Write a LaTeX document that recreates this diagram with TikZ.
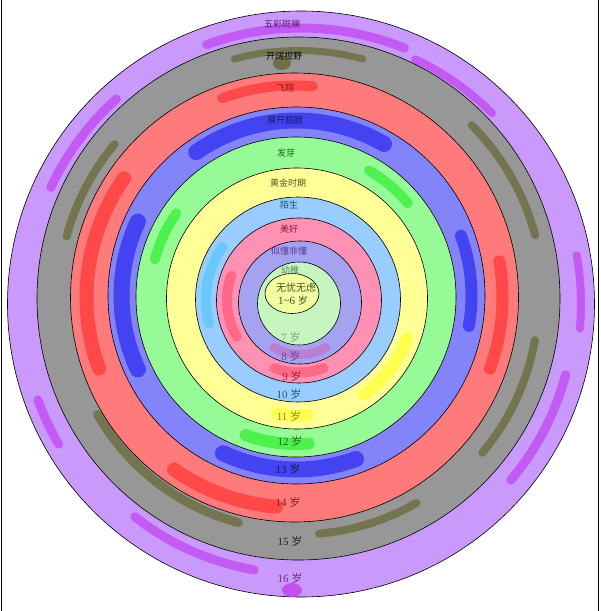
\documentclass[tikz,border=0pt]{standalone}
\usepackage{fontspec}
\setmainfont{Liberation Serif}
\newfontfamily\cjk{Noto Sans CJK SC}
\definecolor{cPurple}{HTML}{C99AFB}
\definecolor{cGray}{HTML}{979797}
\definecolor{cRed}{HTML}{FF7A7A}
\definecolor{cBlue}{HTML}{8484FA}
\definecolor{cGreen}{HTML}{96FB96}
\definecolor{cYellow}{HTML}{FFFF96}
\definecolor{cLBlue}{HTML}{99CCFF}
\definecolor{cPink}{HTML}{FF92B4}
\definecolor{cLav}{HTML}{A6A2F2}
\definecolor{cLGreen}{HTML}{C6F5C0}
\definecolor{cInner}{HTML}{F2FFA0}
\definecolor{mPurple}{HTML}{C040F0}
\definecolor{mOlive}{HTML}{666633}
\definecolor{mRed}{HTML}{FF3535}
\definecolor{mBlue}{HTML}{2828F0}
\definecolor{mGreen}{HTML}{30EE30}
\definecolor{mYellow}{HTML}{FFFF30}
\definecolor{mLBlue}{HTML}{55C8FF}
\definecolor{mPink}{HTML}{FF5878}
\definecolor{mLav}{HTML}{C070C8}
\begin{document}
\begin{tikzpicture}[x=1pt,y=-1pt,
  ring/.style={draw=black, line width=0.6pt},
  marker/.style={line width=#1, line cap=round, opacity=0.7},
  marker/.default=9,
  lab/.style={inner sep=0pt, font=\fontsize{9}{9}\selectfont\cjk},
  age/.style={inner sep=0pt, font=\fontsize{11}{11}\selectfont}]
\useasboundingbox (0,0) rectangle (601,611);
\fill[white] (0,0) rectangle (601,611);
\draw[line width=1.4pt] (1.2,0) -- (1.2,611);
\draw[line width=1.4pt] (598.3,0) -- (598.3,611);
% rings
\filldraw[ring, fill=cPurple] (301,304) ellipse [x radius=293.5, y radius=293];
\draw[marker=9, mPurple] (301,304) ++(250:276) arc[start angle=250, end angle=292, radius=276];
\draw[marker=9, mPurple] (301,304) ++(205:276) arc[start angle=205, end angle=228, radius=276];
\draw[marker=9, mPurple] (301,304) ++(150:280) arc[start angle=150, end angle=160, radius=280];
\draw[marker=9, mPurple] (301,304) ++(100:270) arc[start angle=100, end angle=128, radius=270];
\draw[marker=8, mPurple] (301,304) ++(-10:280) arc[start angle=-10, end angle=5, radius=280];
\draw[marker=9, mPurple] (301,304) ++(15:274) arc[start angle=15, end angle=40, radius=274];
\draw[marker=8, mPurple] (301,304) ++(295:270) arc[start angle=295, end angle=315, radius=270];
\fill[mPurple, opacity=0.8] (292,590) ellipse [x radius=10, y radius=7];
\filldraw[ring, fill=cGray] (298.5,298.5) ellipse [x radius=261.5, y radius=261.5];
\draw[marker=7, mOlive] (298.5,298.5) ++(255:248) arc[start angle=255, end angle=285, radius=248];
\draw[marker=8, mOlive] (298.5,298.5) ++(195:240) arc[start angle=195, end angle=220, radius=240];
\draw[marker=9, mOlive] (298.5,298.5) ++(105:232) arc[start angle=105, end angle=150, radius=232];
\draw[marker=8, mOlive] (298.5,298.5) ++(-45:245) arc[start angle=-45, end angle=-15, radius=245];
\draw[marker=8, mOlive] (298.5,298.5) ++(10:240) arc[start angle=10, end angle=40, radius=240];
\draw[marker=8, mOlive] (298.5,298.5) ++(60:236) arc[start angle=60, end angle=85, radius=236];
\fill[mOlive, opacity=0.8] (282,63) ellipse [x radius=9, y radius=7];
\filldraw[ring, fill=cRed] (294.5,297.5) ellipse [x radius=224, y radius=224.5];
\draw[marker=14, mRed] (294.5,297.5) ++(160:208) arc[start angle=160, end angle=215, radius=208];
\draw[marker=14, mRed] (294.5,297.5) ++(95:210) arc[start angle=95, end angle=125, radius=210];
\draw[marker=12, mRed] (294.5,297.5) ++(-10:208) arc[start angle=-10, end angle=20, radius=208];
\draw[marker=10, mRed] (294.5,297.5) ++(250:212) arc[start angle=250, end angle=275, radius=212];
\filldraw[ring, fill=cBlue] (296.5,295.5) ellipse [x radius=188.5, y radius=188.5];
\draw[marker=16, mBlue] (296.5,295.5) ++(235:175) arc[start angle=235, end angle=300, radius=175];
\draw[marker=16, mBlue] (296.5,295.5) ++(155:175) arc[start angle=155, end angle=205, radius=175];
\draw[marker=16, mBlue] (296.5,295.5) ++(70:174) arc[start angle=70, end angle=115, radius=174];
\draw[marker=12, mBlue] (296.5,295.5) ++(-20:175) arc[start angle=-20, end angle=10, radius=175];
\filldraw[ring, fill=cGreen] (296,297) ellipse [x radius=160, y radius=160];
\draw[marker=12, mGreen] (296,297) ++(85:147) arc[start angle=85, end angle=110, radius=147];
\draw[marker=10, mGreen] (296,297) ++(195:146) arc[start angle=195, end angle=215, radius=146];
\draw[marker=10, mGreen] (296,297) ++(300:146) arc[start angle=300, end angle=320, radius=146];
\filldraw[ring, fill=cYellow] (297,298.5) ellipse [x radius=130.5, y radius=130.5];
\draw[marker=12, mYellow] (297,298.5) ++(20:117) arc[start angle=20, end angle=55, radius=117];
\draw[marker=12, mYellow] (297,298.5) ++(85:117) arc[start angle=85, end angle=100, radius=117];
\filldraw[ring, fill=cLBlue] (298,299.5) ellipse [x radius=102.5, y radius=102.5];
\draw[marker=10, mLBlue] (298,299.5) ++(165:92) arc[start angle=165, end angle=215, radius=92];
\filldraw[ring, fill=cPink] (299,300.5) ellipse [x radius=82.5, y radius=82.5];
\draw[marker=10, mPink] (299,300.5) ++(150:72) arc[start angle=150, end angle=200, radius=72];
\draw[marker=10, mPink] (299,300.5) ++(70:72) arc[start angle=70, end angle=110, radius=72];
\filldraw[ring, fill=cLav] (300,302.5) ellipse [x radius=61.5, y radius=61.5];
\draw[marker=9, mLav] (300,302.5) ++(60:52) arc[start angle=60, end angle=120, radius=52];
\filldraw[ring, fill=cLGreen] (299,303.5) ellipse [x radius=41.5, y radius=41.5];
\filldraw[ring, fill=cInner] (292,293.5) ellipse [x radius=27, y radius=20];
% ring names
\node[lab, text={rgb,255:red,90;green,26;blue,106}] (n16) at (282,24) {五彩斑斓};
\node[lab, text=black] (n15) at (284,56) {开阔视野};
\node[lab, text={rgb,255:red,139;green,26;blue,26}] (n14) at (285,88) {飞翔};
\node[lab, text={rgb,255:red,26;green,26;blue,106}] (n13) at (285,120) {展开翅膀};
\node[lab, text={rgb,255:red,26;green,106;blue,26}] (n12) at (286,153) {发芽};
\node[lab, text={rgb,255:red,90;green,90;blue,26}] (n11) at (288,183) {黄金时期};
\node[lab, text={rgb,255:red,26;green,74;blue,106}] (n10) at (289,205) {陌生};
\node[lab, text={rgb,255:red,139;green,26;blue,58}] (n9) at (289,229) {美好};
\node[lab, text={rgb,255:red,90;green,58;blue,138}] (n8) at (289,251) {似懂非懂};
\node[lab, text={rgb,255:red,90;green,138;blue,90}] (n7) at (290,270) {幼稚};
\node[lab, font=\fontsize{10}{10}\selectfont\cjk, text={rgb,255:red,74;green,74;blue,26}] (n1) at (296,288) {无忧无虑};
\node[age, text={rgb,255:red,74;green,74;blue,26}] (a1) at (293,301) {1\textasciitilde6 {\cjk\fontsize{10}{10}\selectfont 岁}};
% ages
\node[age, text={rgb,255:red,138;green,154;blue,138}] (a7) at (291,337) {7 {\cjk 岁}};
\node[age, text={rgb,255:red,106;green,74;blue,138}] (a8) at (291,356) {8 {\cjk 岁}};
\node[age, text={rgb,255:red,160;green,32;blue,48}] (a9) at (292,376) {9 {\cjk 岁}};
\node[age, text={rgb,255:red,26;green,90;blue,122}] (a10) at (289,394) {10 {\cjk 岁}};
\node[age, text={rgb,255:red,138;green,138;blue,48}] (a11) at (289,416) {11 {\cjk 岁}};
\node[age, text={rgb,255:red,26;green,106;blue,26}] (a12) at (290,441) {12 {\cjk 岁}};
\node[age, text={rgb,255:red,26;green,26;blue,90}] (a13) at (288,469) {13 {\cjk 岁}};
\node[age, text={rgb,255:red,139;green,26;blue,26}] (a14) at (288,502) {14 {\cjk 岁}};
\node[age, text={rgb,255:red,34;green,34;blue,34}] (a15) at (290,541) {15 {\cjk 岁}};
\node[age, text={rgb,255:red,106;green,42;blue,122}] (a16) at (290,578) {16 {\cjk 岁}};
\end{tikzpicture}
\end{document}
